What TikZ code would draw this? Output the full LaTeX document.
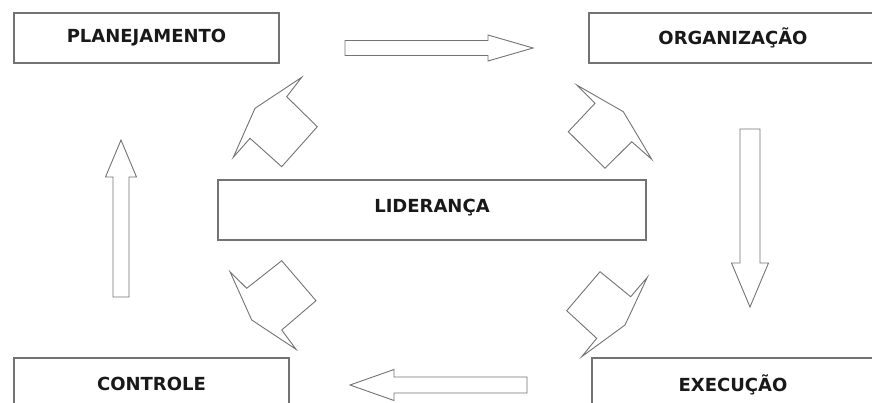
\documentclass[tikz,border=0pt]{standalone}
\usepackage{fontspec}
\setmainfont{DejaVu Sans}
\begin{document}
\begin{tikzpicture}[x=1pt,y=-1pt,
  box/.style={draw=black!55,line width=1.1pt,fill=white,rectangle,inner sep=0pt,
    font=\fontsize{18}{20}\selectfont\bfseries,text=black!90},
  blockarrow/.style={draw=black!55,line width=0.9pt,line join=miter,fill=white}]
\useasboundingbox (0,0) rectangle (872,402);
\clip (0,0) rectangle (872,402);
% boxes
\node[box,minimum width=265pt,minimum height=50pt] (plan) at (146.5,38) {\raisebox{3pt}{PLANEJAMENTO}};
\node[box,minimum width=288pt,minimum height=50pt] (org) at (733,38) {\raisebox{3pt}{ORGANIZAÇÃO}};
\node[box,minimum width=428pt,minimum height=60pt] (lid) at (432,210) {\raisebox{8pt}{LIDERANÇA}};
\node[box,minimum width=275pt,minimum height=60pt] (ctrl) at (151.5,388) {\raisebox{9pt}{CONTROLE}};
\node[box,minimum width=282pt,minimum height=60pt] (exec) at (733,388) {\raisebox{9pt}{EXECUÇÃO}};
% straight block arrows
\draw[blockarrow] (345,40.5) -- (488,40.5) -- (488,35) -- (533,48) -- (488,61) -- (488,55.5) -- (345,55.5) -- cycle;
\draw[blockarrow] (740,129) -- (760,129) -- (760,263) -- (768.5,263) -- (750,307) -- (731.5,263) -- (740,263) -- cycle;
\draw[blockarrow] (527,377) -- (394,377) -- (394,369.5) -- (350,385) -- (394,400.5) -- (394,393) -- (527,393) -- cycle;
\draw[blockarrow] (113,297) -- (129,297) -- (129,177) -- (136.5,177) -- (121,140) -- (105.5,177) -- (113,177) -- cycle;
% diagonal block arrows around LIDERANCA
\draw[blockarrow] (301.7,77.3) -- (286.7,96.7) -- (317.3,126.7) -- (281.7,166.7) -- (250,138.3) -- (233.3,157.3) -- (255,108.3) -- cycle;
\draw[blockarrow] (576.7,85) -- (595,103.3) -- (568.3,131.7) -- (605,168.3) -- (631.7,141.7) -- (651.7,159.3) -- (623.3,111.7) -- cycle;
\draw[blockarrow] (230,271.7) -- (246.7,288.3) -- (281.7,260.7) -- (316,300.7) -- (281.7,330) -- (296,349.3) -- (251.7,320) -- cycle;
\draw[blockarrow] (647.3,277.3) -- (630.7,296.7) -- (600,271.7) -- (566.7,310.7) -- (596.7,338.3) -- (581.7,356.7) -- (625,325) -- cycle;
\end{tikzpicture}
\end{document}
